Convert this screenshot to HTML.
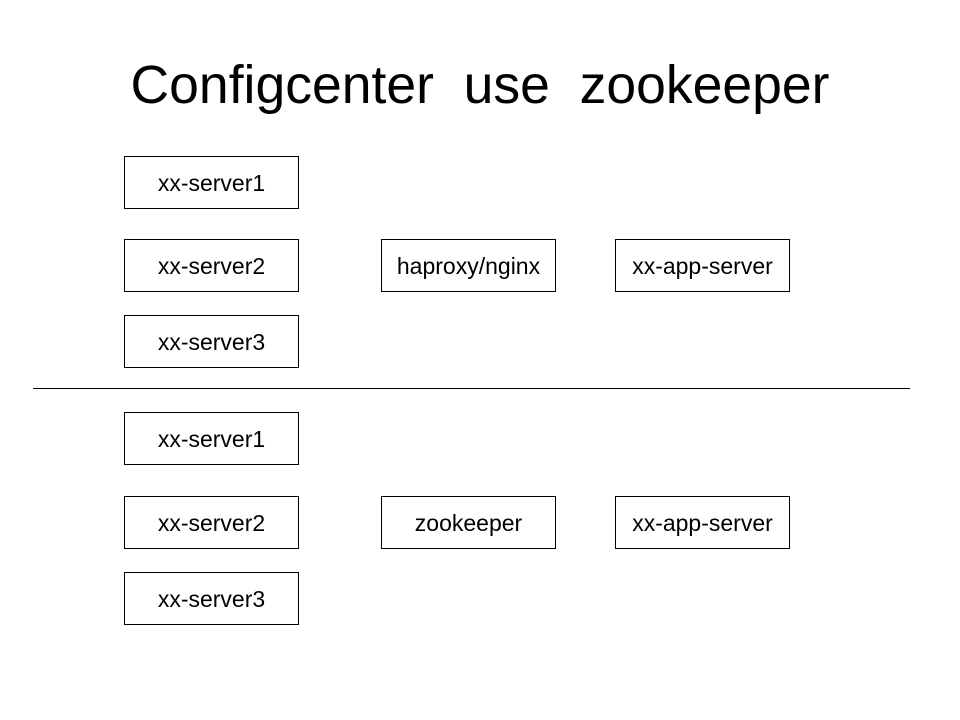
<!DOCTYPE html>
<html><head><meta charset="utf-8"><style>
body{margin:0;width:960px;height:720px;background:#fff;position:relative;overflow:hidden;font-family:"Liberation Sans",Arial,sans-serif;}
.t{position:absolute;left:0;width:960px;top:55px;text-align:center;font-size:53.5px;white-space:pre;color:#000;}
.b{position:absolute;width:175px;height:53px;border:1px solid #000;box-sizing:border-box;display:flex;align-items:center;justify-content:center;font-size:23px;color:#000;padding-top:2px;}
.l{position:absolute;left:33px;top:388px;width:877px;height:1px;background:#000;}
</style></head><body>
<div class="t">Configcenter  use  zookeeper</div>
<div class="b" style="left:124px;top:156px">xx-server1</div>
<div class="b" style="left:124px;top:239px">xx-server2</div>
<div class="b" style="left:124px;top:315px">xx-server3</div>
<div class="b" style="left:381px;top:239px">haproxy/nginx</div>
<div class="b" style="left:615px;top:239px">xx-app-server</div>
<div class="l"></div>
<div class="b" style="left:124px;top:412px">xx-server1</div>
<div class="b" style="left:124px;top:496px">xx-server2</div>
<div class="b" style="left:124px;top:572px">xx-server3</div>
<div class="b" style="left:381px;top:496px">zookeeper</div>
<div class="b" style="left:615px;top:496px">xx-app-server</div>
</body></html>
